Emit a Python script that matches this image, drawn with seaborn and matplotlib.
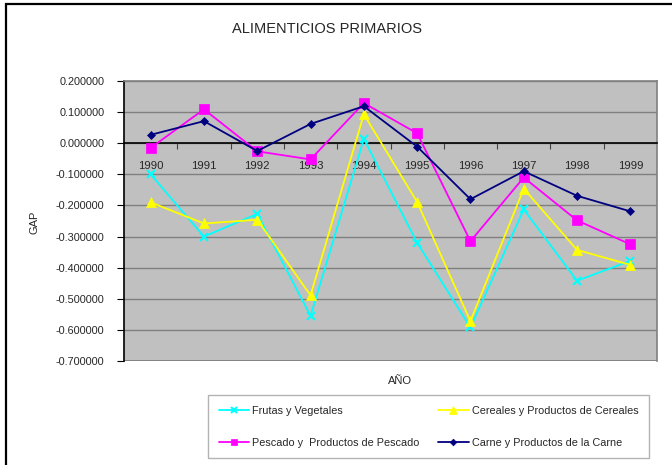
import matplotlib
matplotlib.use("Agg")
import matplotlib.pyplot as plt
import seaborn as sns
import pandas as pd
from matplotlib.patches import Rectangle

years = ["1990", "1991", "1992", "1993", "1994", "1995", "1996", "1997", "1998", "1999"]
frutas = [-0.100, -0.300, -0.227, -0.555, 0.014, -0.320, -0.592, -0.213, -0.442, -0.378]
cereales = [-0.190, -0.258, -0.246, -0.489, 0.093, -0.189, -0.572, -0.146, -0.343, -0.391]
pescado = [-0.015, 0.109, -0.026, -0.052, 0.129, 0.032, -0.315, -0.110, -0.248, -0.325]
carne = [0.027, 0.071, -0.025, 0.062, 0.119, -0.011, -0.180, -0.090, -0.169, -0.219]

series_names = ["Frutas y Vegetales", "Cereales y Productos de Cereales",
                "Pescado y  Productos de Pescado", "Carne y Productos de la Carne"]
series_vals = [frutas, cereales, pescado, carne]
colors = ["#00FFFF", "#FFFF00", "#FF00FF", "#000080"]
markers = ["x", "^", "s", "D"]
msizes = [6, 7, 6.5, 4.5]

rows = []
for name, vals in zip(series_names, series_vals):
    for i, (y, v) in enumerate(zip(years, vals)):
        rows.append({"year": y, "idx": i, "GAP": v, "serie": name})
df = pd.DataFrame(rows)

sns.set_theme(style="white")
plt.rcParams['font.family'] = ['Liberation Sans', 'DejaVu Sans']

fig = plt.figure(figsize=(6.72, 4.65), dpi=100)
ax = fig.add_axes([124/672, 1 - 361/465, (657-124)/672, (361-81)/465])
ax.set_facecolor("#C0C0C0")

handles = {}
for name, c, m, ms in zip(series_names, colors, markers, msizes):
    sub = df[df["serie"] == name]
    sns.lineplot(data=sub, x="idx", y="GAP", ax=ax, color=c, marker=m,
                 markersize=ms, markeredgecolor=c, markeredgewidth=1.5 if m == "x" else 0.5,
                 linewidth=1.3, legend=False, zorder=3)
    handles[name] = ax.lines[-1]

ax.set_xlim(-0.5, 9.5)
ax.set_ylim(-0.7, 0.2)
ax.set_yticks([0.2 - 0.1*i for i in range(10)])
ax.set_yticklabels([f"{0.2 - 0.1*i:.6f}".replace("-0.000000", "0.000000") for i in range(10)], fontsize=7.8)
ax.yaxis.grid(True, color="#808080", linewidth=1)
ax.set_axisbelow(True)

# category axis crossing at zero
ax.spines['bottom'].set_position(('data', 0))
ax.spines['bottom'].set_color('black')
ax.spines['bottom'].set_linewidth(1.2)
ax.spines['left'].set_color('black')
ax.spines['left'].set_linewidth(1.2)
for s in ['top', 'right']:
    ax.spines[s].set_color('#808080')
    ax.spines[s].set_linewidth(1.2)
ax.axhline(-0.7, color="#808080", linewidth=2, zorder=0.5)

ax.set_xticks([i + 0.5 for i in range(9)])
ax.set_xticklabels([])
ax.set_xticks(range(10), minor=True)
ax.set_xticklabels(years, minor=True, fontsize=8.2)
ax.tick_params(axis='x', which='major', direction='out', length=4, color='#404040', width=0.8, bottom=True)
ax.tick_params(axis='x', which='minor', length=0, pad=13)
ax.tick_params(axis='y', direction='out', length=5, color='black', width=0.8, left=True, pad=9)

ax.set_xlabel("")
ax.set_ylabel("")
fig.text(35/672, 1 - 222/465, "GAP", rotation=90, ha='center', va='center', fontsize=8)
fig.text(400/672, 1 - 381/465, "AÑO", ha='center', va='center', fontsize=8)
fig.text(327/672, 1 - 29/465, "ALIMENTICIOS PRIMARIOS", ha='center', va='center', fontsize=10.5)

order = [series_names[0], series_names[2], series_names[1], series_names[3]]
leg = fig.legend([handles[n] for n in order], order, ncol=2,
                 loc='upper left', bbox_to_anchor=(208/672, 1 - 395/465), borderaxespad=0,
                 frameon=True, fontsize=7.8, handlelength=2.8, columnspacing=1.7,
                 labelspacing=2.0, borderpad=1.0, handletextpad=0.3, markerscale=0.75,
                 fancybox=False, edgecolor="#A0A0A0")
leg.get_frame().set_linewidth(1.0)

fig.patches.append(Rectangle((6/672, -0.1), 1.2, 1 - 4/465 + 0.1, transform=fig.transFigure,
                             fill=False, edgecolor='black', linewidth=1.6))

fig.savefig("out.png", dpi=100)
